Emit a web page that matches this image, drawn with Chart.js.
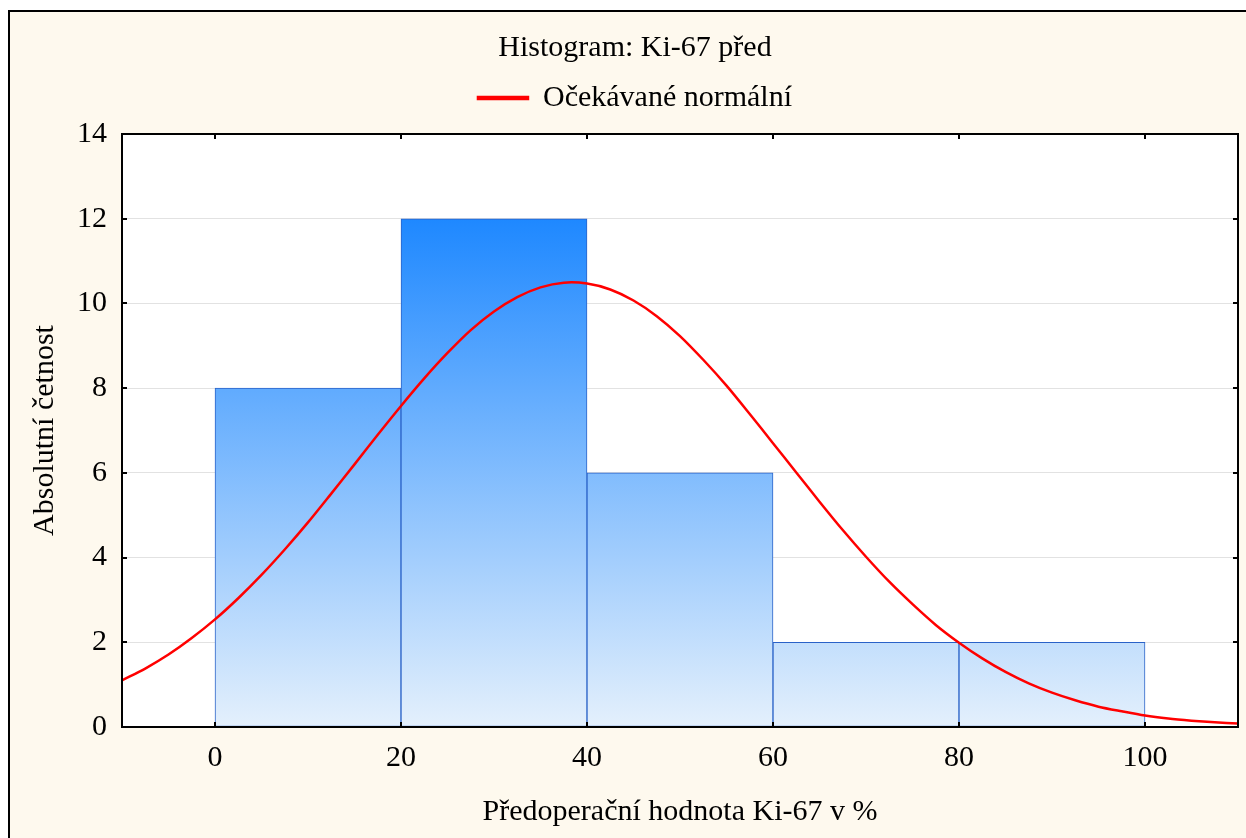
<!DOCTYPE html>
<html>
<head>
<meta charset="utf-8">
<script src="https://cdn.jsdelivr.net/npm/chart.js@4.4.1/dist/chart.umd.min.js"></script>
<style>
  html, body { margin: 0; padding: 0; background: #fff; }
  #wrap { width: 1246px; height: 838px; }
</style>
</head>
<body>
<div id="wrap"><canvas id="histChart" width="1246" height="838"></canvas></div>
<script>
// Histogram bins (centre of each 20-wide class) and counts
var binCenters = [10, 30, 50, 70, 90];
var binCounts = [8, 12, 6, 2, 2];

// Expected normal curve
var curveX = [-10, -7.5, -5, -2.5, 0, 2.5, 5, 7.5, 10, 12.5, 15, 17.5, 20, 22.5, 25, 27.5, 30, 32.5, 35, 37.5,
              40, 42.5, 45, 47.5, 50, 52.5, 55, 57.5, 60, 62.5, 65, 67.5, 70, 72.5, 75, 77.5,
              80, 82.5, 85, 87.5, 90, 92.5, 95, 97.5, 100, 102.5, 105, 107.5, 110];
var curveY = [1.1, 1.38, 1.71, 2.1, 2.54, 3.04, 3.59, 4.19, 4.83, 5.51, 6.2, 6.9, 7.58, 8.23, 8.83, 9.37, 9.81, 10.15, 10.38, 10.49,
              10.47, 10.33, 10.07, 9.7, 9.23, 8.67, 8.06, 7.39, 6.7, 6.01, 5.32, 4.65, 4.02, 3.43, 2.9, 2.41,
              1.99, 1.62, 1.3, 1.03, 0.81, 0.63, 0.48, 0.37, 0.27, 0.2, 0.15, 0.11, 0.08];

var xTicks = [0, 20, 40, 60, 80, 100];
var yTicks = [0, 2, 4, 6, 8, 10, 12, 14];

var serif = "'Liberation Serif', 'DejaVu Serif', serif";
Chart.defaults.color = '#000';
Chart.defaults.font.family = serif;
Chart.defaults.font.size = 30;

// Cream frame, white plot area, black box with inward ticks
Chart.register({
    id: 'frame-plugin',
    beforeDraw: (chart) => {
        const ctx = chart.ctx;
        const a = chart.chartArea;
        ctx.save();
        ctx.fillStyle = '#fff';
        ctx.fillRect(0, 0, chart.width, chart.height);
        ctx.fillStyle = '#FEF9EE';
        ctx.fillRect(8, 10, chart.width, chart.height);
        ctx.strokeStyle = '#000';
        ctx.lineWidth = 2;
        ctx.beginPath();
        ctx.moveTo(9, chart.height);
        ctx.lineTo(9, 11);
        ctx.lineTo(chart.width, 11);
        ctx.stroke();
        ctx.fillStyle = '#fff';
        ctx.fillRect(a.left, a.top, a.right - a.left, a.bottom - a.top);
        ctx.restore();
    },
    afterDraw: (chart) => {
        const ctx = chart.ctx;
        const a = chart.chartArea;
        const xs = chart.scales.x, ys = chart.scales.y;
        ctx.save();
        ctx.strokeStyle = '#000';
        ctx.lineWidth = 2;
        ctx.strokeRect(a.left, a.top, a.right - a.left, a.bottom - a.top);
        ctx.beginPath();
        xTicks.forEach(v => {
            const px = Math.round(xs.getPixelForValue(v));
            ctx.moveTo(px, a.bottom); ctx.lineTo(px, a.bottom - 5);
            ctx.moveTo(px, a.top); ctx.lineTo(px, a.top + 5);
        });
        yTicks.forEach(v => {
            const py = Math.round(ys.getPixelForValue(v));
            ctx.moveTo(a.left, py); ctx.lineTo(a.left + 5, py);
            ctx.moveTo(a.right, py); ctx.lineTo(a.right - 5, py);
        });
        ctx.stroke();
        ctx.restore();
    }
});

function barGradient(context) {
    const chart = context.chart;
    if (!chart.chartArea) return '#7DB9FA';
    const ys = chart.scales.y;
    const g = chart.ctx.createLinearGradient(0, ys.getPixelForValue(12), 0, ys.getPixelForValue(0));
    g.addColorStop(0, '#1E88FF');
    g.addColorStop(1, '#E4F0FC');
    return g;
}

var ctx = document.getElementById('histChart').getContext('2d');
var histChart = new Chart(ctx, {
    type: 'bar',
    data: {
        datasets: [{
            type: 'bar',
            label: 'Četnost',
            data: binCenters.map((x, i) => ({ x: x, y: binCounts[i] })),
            backgroundColor: barGradient,
            borderColor: '#2A62C8',
            borderWidth: 1,
            borderSkipped: false,
            barPercentage: 1,
            categoryPercentage: 1,
            order: 2
        },
        {
            type: 'line',
            label: 'Očekávané normální',
            data: curveX.map((x, i) => ({ x: x, y: curveY[i] })),
            borderColor: '#FF0000',
            backgroundColor: '#FF0000',
            borderWidth: 2.5,
            pointRadius: 0,
            tension: 0.3,
            fill: false,
            order: 1
        }]
    },
    options: {
        responsive: false,
        animation: false,
        layout: { padding: { top: 0, right: 8, left: 32, bottom: 0 } },
        plugins: {
            title: {
                display: true,
                text: 'Histogram: Ki-67 před',
                font: { size: 30, weight: 'normal', lineHeight: '4px' },
                padding: { top: 46, bottom: 0 }
            },
            legend: {
                display: true,
                labels: {
                    filter: (item) => item.datasetIndex === 1,
                    boxWidth: 50,
                    boxHeight: 2,
                    padding: 33,
                    font: { size: 30 }
                }
            },
            // empty spacer between legend and plot area
            subtitle: {
                display: true,
                text: '',
                weight: 500,
                font: { size: 30, lineHeight: '11px' },
                padding: 0
            },
            tooltip: { enabled: false }
        },
        scales: {
            x: {
                type: 'linear',
                min: -10,
                max: 110,
                offset: false,
                afterFit: (scale) => { scale.height = 111; },
                afterBuildTicks: (scale) => { scale.ticks = xTicks.map(v => ({ value: v })); },
                ticks: { stepSize: 20, includeBounds: false, padding: 13, maxRotation: 0 },
                grid: { display: false, drawTicks: false, offset: false },
                border: { display: false },
                title: {
                    display: true,
                    text: 'Předoperační hodnota Ki-67 v %',
                    font: { size: 30 },
                    padding: { top: 0, bottom: 8 }
                }
            },
            y: {
                min: 0,
                max: 14,
                afterFit: (scale) => { scale.width = 90; },
                afterBuildTicks: (scale) => { scale.ticks = yTicks.map(v => ({ value: v })); },
                ticks: { stepSize: 2, padding: 15 },
                grid: { color: '#E2E2E2', lineWidth: 1, drawTicks: false },
                border: { display: false },
                title: {
                    display: true,
                    text: 'Absolutní četnost',
                    font: { size: 30 },
                    padding: { top: -5, bottom: 0 }
                }
            }
        }
    }
});
</script>
</body>
</html>
